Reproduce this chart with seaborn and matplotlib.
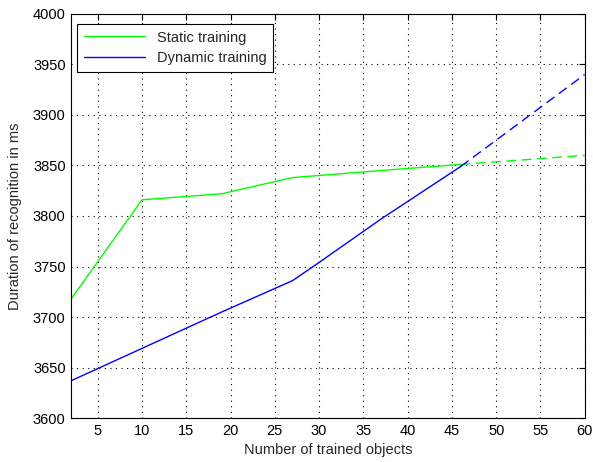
import matplotlib
matplotlib.use("Agg")
import matplotlib.pyplot as plt
import seaborn as sns
import pandas as pd

# Data
static_x = [2, 10, 19, 27, 37, 46]
static_y = [3718, 3816, 3822, 3838, 3845, 3851]
static_ext_x = [46, 60]
static_ext_y = [3851, 3860]

dynamic_x = [2, 10, 19, 27, 30, 37, 46]
dynamic_y = [3637, 3669, 3705, 3736, 3754, 3797, 3849]
dynamic_ext_x = [46, 60]
dynamic_ext_y = [3849, 3940]

x_ticks = [5, 10, 15, 20, 25, 30, 35, 40, 45, 50, 55, 60]
y_ticks = [3600, 3650, 3700, 3750, 3800, 3850, 3900, 3950, 4000]

sns.set_style("white")
plt.rcParams['font.family'] = ['Liberation Sans', 'DejaVu Sans']

fig = plt.figure(figsize=(5.93, 4.62), dpi=100)
ax = fig.add_axes([0.12, 0.095, 0.866, 0.875])

green = "#00ff00"
blue = "#0000ff"

sns.lineplot(x=static_x, y=static_y, ax=ax, color=green, lw=1.0, label="Static training")
sns.lineplot(x=dynamic_x, y=dynamic_y, ax=ax, color=blue, lw=1.0, label="Dynamic training")
sns.lineplot(x=static_ext_x, y=static_ext_y, ax=ax, color=green, lw=1.0, legend=False)
ax.lines[-1].set_dashes([7, 4])
sns.lineplot(x=dynamic_ext_x, y=dynamic_ext_y, ax=ax, color=blue, lw=1.0, legend=False)
ax.lines[-1].set_dashes([7, 4])

ax.set_xlim(2, 60)
ax.set_ylim(3600, 4000)
ax.set_xticks(x_ticks)
ax.set_yticks(y_ticks)
ax.grid(True, color="black", linestyle=(0, (1, 4)), linewidth=0.8)
ax.tick_params(direction="in", top=True, right=True, length=4, width=0.8,
               labelsize=10.5, colors="black", pad=4)
for s in ax.spines.values():
    s.set_color("black")
    s.set_linewidth(0.8)
    s.set_visible(True)

ax.set_xlabel("Number of trained objects", fontsize=10.5, labelpad=4)
ax.set_ylabel("Duration of recognition in ms", fontsize=10.5, labelpad=8)

leg = ax.legend(loc="upper left", bbox_to_anchor=(0.012, 0.975), fontsize=10.5,
                frameon=True, fancybox=False, framealpha=1, edgecolor="black",
                handlelength=4.2, borderpad=0.45, labelspacing=0.45,
                borderaxespad=0)
leg.get_frame().set_linewidth(0.8)

fig.savefig("out.png", dpi=100)
